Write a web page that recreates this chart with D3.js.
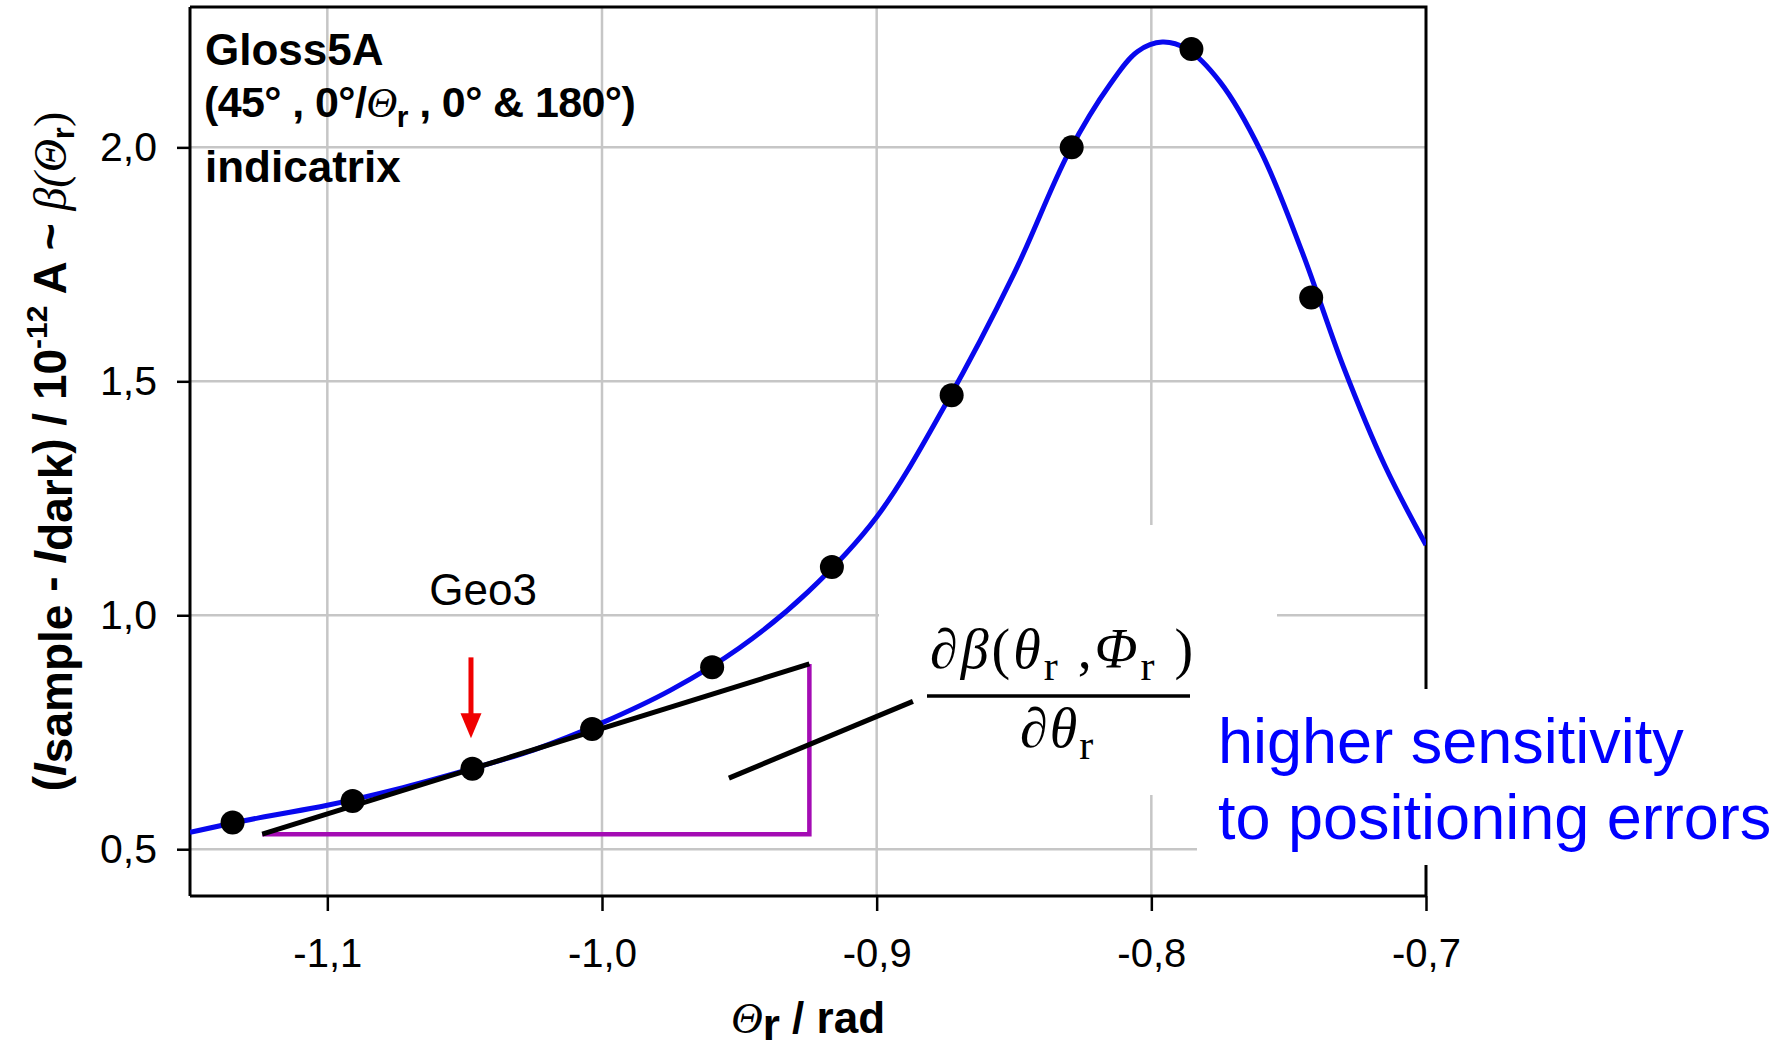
<!DOCTYPE html>
<html lang="en">
<head>
<meta charset="UTF-8">
<title>Gloss5A indicatrix</title>
<script src="https://cdn.jsdelivr.net/npm/d3@7/dist/d3.min.js"></script>
<style>
    body { margin: 0; background: #fff; }
    svg { display: block; }
    .sans { font-family: "Liberation Sans", Arial, sans-serif; }
    .serif { font-family: "Liberation Serif", "Times New Roman", serif; }
</style>
</head>
<body>
<div id="chart"></div>
<script>
// measured points, theta_r in rad (2.5 deg steps)
const thetaR = [-1.1345, -1.0908, -1.0472, -1.0036, -0.9599, -0.9163, -0.8727, -0.8290, -0.7854, -0.7418];
const signal = [0.557, 0.603, 0.672, 0.757, 0.889, 1.103, 1.470, 2.000, 2.210, 1.679];

// fitted curve
const fitX = [-1.15, -1.125, -1.10, -1.075, -1.05, -1.025, -1.00, -0.975, -0.95, -0.925, -0.90, -0.875,
              -0.85, -0.83, -0.815, -0.805, -0.796, -0.787, -0.775, -0.76, -0.745, -0.73, -0.715, -0.70];
const fitY = [0.536, 0.567, 0.594, 0.628, 0.668, 0.712, 0.770, 0.840, 0.930, 1.050, 1.210, 1.450,
              1.730, 1.990, 2.135, 2.205, 2.225, 2.210, 2.140, 1.990, 1.775, 1.530, 1.320, 1.150];

// tangent at Geo3 and its slope triangle
const tangentX = [-1.1237, -0.9245];
const tangentY = [0.532, 0.896];
const leaderX = [-0.9538, -0.8868];
const leaderY = [0.652, 0.816];
const arrowX = -1.0477;
const arrowY = [0.910, 0.737];

const xTicks = [-1.1, -1.0, -0.9, -0.8, -0.7];
const yTicks = [0.5, 1.0, 1.5, 2.0];

const W = 1785, H = 1050;
const pLeft = 190, pRight = 1426, pTop = 7, pBottom = 896;

const x = d3.scaleLinear().domain([-1.15, -0.70]).range([pLeft, pRight]);
const y = d3.scaleLinear().domain([0.4, 2.3]).range([pBottom, pTop]);
const comma = d => d3.format(".1f")(d).replace(".", ",").replace("−", "-");

const svg = d3.select("#chart").append("svg")
    .attr("width", W).attr("height", H);

svg.append("clipPath").attr("id", "plot")
  .append("rect").attr("x", pLeft).attr("y", pTop)
    .attr("width", pRight - pLeft).attr("height", pBottom - pTop);

// grid
svg.append("g").selectAll("line").data(xTicks.slice(0, 4)).join("line")
    .attr("x1", d => x(d)).attr("x2", d => x(d))
    .attr("y1", pTop).attr("y2", pBottom)
    .attr("stroke", "#c6c6c6").attr("stroke-width", 2.5);
svg.append("g").selectAll("line").data(yTicks).join("line")
    .attr("x1", pLeft).attr("x2", pRight)
    .attr("y1", d => y(d)).attr("y2", d => y(d))
    .attr("stroke", "#c6c6c6").attr("stroke-width", 2.5);

// top and right frame
svg.append("path")
    .attr("d", `M${pLeft},${pTop}H${pRight}V${pBottom}`)
    .attr("fill", "none").attr("stroke", "#000").attr("stroke-width", 3);

// white boxes behind the annotations
svg.append("rect").attr("x", 879).attr("y", 525).attr("width", 398).attr("height", 270).attr("fill", "#fff");
svg.append("rect").attr("x", 1197).attr("y", 689).attr("width", 588).attr("height", 176).attr("fill", "#fff");

// axes
const xAxis = svg.append("g")
    .attr("transform", `translate(0,${pBottom})`)
    .call(d3.axisBottom(x).tickValues(xTicks).tickFormat(comma).tickSize(15).tickPadding(28));
const yAxis = svg.append("g")
    .attr("transform", `translate(${pLeft},0)`)
    .call(d3.axisLeft(y).tickValues(yTicks).tickFormat(comma).tickSize(13).tickPadding(20));
[xAxis, yAxis].forEach(g => {
    g.select(".domain").attr("stroke", "#000").attr("stroke-width", 3);
    g.selectAll(".tick line").attr("stroke", "#000").attr("stroke-width", 2.5);
    g.selectAll(".tick text").attr("class", "sans").attr("font-size", 40).attr("fill", "#000");
});
yAxis.selectAll(".tick text").attr("font-size", 41);
xAxis.select(".domain").attr("d", `M${pLeft},0H${pRight}`);
yAxis.select(".domain").attr("d", `M0,${pTop}V${pBottom}`);

// slope triangle
svg.append("path")
    .attr("d", `M${x(tangentX[0])},${y(tangentY[0])}H${x(tangentX[1])}V${y(tangentY[1])}`)
    .attr("fill", "none").attr("stroke", "#a40cb4").attr("stroke-width", 4.5);

// fitted curve
const line = d3.line().x(d => x(d[0])).y(d => y(d[1])).curve(d3.curveCatmullRom.alpha(0.5));
svg.append("path")
    .datum(fitX.map((d, i) => [d, fitY[i]]))
    .attr("clip-path", "url(#plot)")
    .attr("d", line)
    .attr("fill", "none").attr("stroke", "#0808ee").attr("stroke-width", 5);

// tangent and leader
svg.append("line")
    .attr("x1", x(tangentX[0])).attr("y1", y(tangentY[0]))
    .attr("x2", x(tangentX[1])).attr("y2", y(tangentY[1]))
    .attr("stroke", "#000").attr("stroke-width", 5);
svg.append("line")
    .attr("x1", x(leaderX[0])).attr("y1", y(leaderY[0]))
    .attr("x2", x(leaderX[1])).attr("y2", y(leaderY[1]))
    .attr("stroke", "#000").attr("stroke-width", 5);

// points
svg.append("g").selectAll("circle").data(thetaR).join("circle")
    .attr("cx", d => x(d)).attr("cy", (d, i) => y(signal[i]))
    .attr("r", 12).attr("fill", "#000");

// Geo3 arrow
const ax = x(arrowX), ay0 = y(arrowY[0]), ay1 = y(arrowY[1]);
svg.append("line").attr("x1", ax).attr("x2", ax).attr("y1", ay0).attr("y2", ay1 - 20)
    .attr("stroke", "#f00000").attr("stroke-width", 5);
svg.append("path").attr("d", `M${ax - 10.5},${ay1 - 25}L${ax + 10.5},${ay1 - 25}L${ax},${ay1}Z`)
    .attr("fill", "#f00000");
svg.append("text").attr("class", "sans")
    .attr("x", x(-1.0433)).attr("y", y(1.021))
    .attr("text-anchor", "middle").attr("font-size", 44).text("Geo3");

// title block
const title = svg.append("text").attr("class", "sans")
    .attr("font-size", 44).attr("font-weight", "bold").attr("fill", "#000");
title.append("tspan").attr("x", 205).attr("y", 65).text("Gloss5A");
const t2 = title.append("tspan").attr("x", 204).attr("y", 117).attr("font-size", 43).attr("letter-spacing", -0.6);
t2.append("tspan").text("(45° , 0°/");
t2.append("tspan").attr("class", "serif").attr("font-style", "italic").attr("font-weight", "normal").text("Θ");
t2.append("tspan").attr("font-size", 30).attr("dy", 10).text("r");
t2.append("tspan").attr("dy", -10).text(" , 0° & 180°)");
title.append("tspan").attr("x", 205).attr("y", 182).text("indicatrix");

// derivative fraction
const num = svg.append("text").attr("class", "serif").attr("font-size", 56)
    .attr("letter-spacing", 3).attr("x", 930).attr("y", 668);
num.append("tspan").attr("font-style", "italic").text("∂β");
num.append("tspan").text("(");
num.append("tspan").attr("font-style", "italic").text("θ");
num.append("tspan").attr("font-size", 42).attr("dy", 12).text("r");
num.append("tspan").attr("dy", -12).text(" ,");
num.append("tspan").attr("font-style", "italic").text("Φ");
num.append("tspan").attr("font-size", 42).attr("dy", 12).text("r");
num.append("tspan").attr("dy", -12).text(" )");
svg.append("line").attr("x1", 927).attr("x2", 1190).attr("y1", 696).attr("y2", 696)
    .attr("stroke", "#000").attr("stroke-width", 3.5);
const den = svg.append("text").attr("class", "serif").attr("font-size", 56)
    .attr("letter-spacing", 2).attr("x", 1020).attr("y", 747);
den.append("tspan").attr("font-style", "italic").text("∂θ");
den.append("tspan").attr("font-size", 42).attr("dy", 12).text("r");

// blue note
const note = svg.append("text").attr("class", "sans").attr("font-size", 63).attr("fill", "#0000ff");
note.append("tspan").attr("x", 1218).attr("y", 763).text("higher sensitivity");
note.append("tspan").attr("x", 1218).attr("y", 839).text("to positioning errors");

// x axis label
const xl = svg.append("text").attr("class", "sans").attr("font-size", 44).attr("font-weight", "bold")
    .attr("x", (pLeft + pRight) / 2).attr("y", 1033).attr("text-anchor", "middle");
xl.append("tspan").attr("class", "serif").attr("font-style", "italic").attr("font-weight", "normal").text("Θ");
xl.append("tspan").attr("dy", 7).text("r");
xl.append("tspan").attr("dy", -7).text(" / rad");

// y axis label
const yl = svg.append("text").attr("class", "sans").attr("font-size", 46).attr("font-weight", "bold")
    .attr("transform", `translate(66,${(pTop + pBottom) / 2}) rotate(-90)`)
    .attr("text-anchor", "middle");
yl.append("tspan").text("(");
yl.append("tspan").attr("font-style", "italic").text("I");
yl.append("tspan").attr("dy", 6).text("sample");
yl.append("tspan").attr("dy", -6).text(" - ");
yl.append("tspan").attr("font-style", "italic").text("I");
yl.append("tspan").attr("dy", 6).text("dark");
yl.append("tspan").attr("dy", -6).text(") / 10");
yl.append("tspan").attr("font-size", 30).attr("dy", -19).text("-12");
yl.append("tspan").attr("dy", 19).text(" A ~ ");
yl.append("tspan").attr("class", "serif").attr("font-style", "italic").attr("font-weight", "normal").text("β(Θ");
yl.append("tspan").attr("font-size", 31).attr("dy", 8).text("r");
yl.append("tspan").attr("class", "serif").attr("font-weight", "normal").attr("dy", -8).text(")");
</script>
</body>
</html>
